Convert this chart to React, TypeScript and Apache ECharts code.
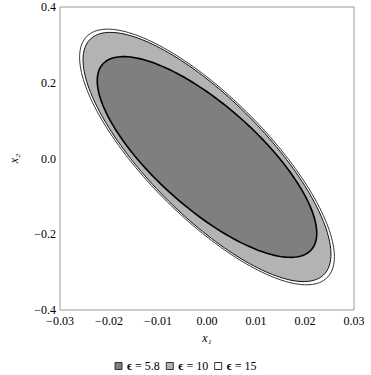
import React, { useEffect, useRef } from "react";
import * as echarts from "echarts";

// Ellipse parameters: [centerX, centerY, halfWidthX, halfHeightY, correlation]
const seriesNames = ["ϵ = 15", "ϵ = 10", "ϵ = 5.8"];
const ellipse15 = [0, 0.004, 0.0260, 0.3375, 0.78];
const ellipse10 = [0, 0.004, 0.0253, 0.3290, 0.78];
const ellipse58 = [0, 0.004, 0.0224, 0.2650, 0.76];
const ellipseData = [ellipse15, ellipse10, ellipse58];
const fills = ["#ffffff", "#b3b3b3", "#7f7f7f"];
const strokes = ["#333333", "#111111", "#000000"];
const strokeWidths = [1, 1, 1.6];
const legendOrder = ["ϵ = 5.8", "ϵ = 10", "ϵ = 15"];
const legendFills = ["#7f7f7f", "#b3b3b3", "#ffffff"];

const fmtNum = (v: number, d: number) => {
  const x = Math.abs(v) < 1e-9 ? 0 : v;
  return x.toFixed(d).replace("-", "\u2212");
};

export default function App() {
  const ref = useRef<HTMLDivElement>(null);
  useEffect(() => {
    if (!ref.current) return;
    const chart = echarts.init(ref.current, null, { renderer: "svg" });
    const font = "Times New Roman, Liberation Serif, DejaVu Serif, serif";
    const series = ellipseData.map((e, i) => ({
      type: "custom",
      name: seriesNames[i],
      coordinateSystem: "cartesian2d",
      encode: { x: 0, y: 1 },
      data: [e],
      z: 2 + i,
      renderItem: (params: any, api: any) => {
        const cx = api.value(0);
        const cy = api.value(1);
        const a = api.value(2);
        const b = api.value(3);
        const r = api.value(4);
        const s = Math.sqrt(1 - r * r);
        const pts: number[][] = [];
        const n = 180;
        for (let k = 0; k < n; k++) {
          const t = (k / n) * Math.PI * 2;
          const x = cx + a * Math.cos(t);
          const y = cy - b * (r * Math.cos(t) + s * Math.sin(t));
          pts.push(api.coord([x, y]));
        }
        return {
          type: "polygon",
          shape: { points: pts },
          style: { fill: fills[i], stroke: strokes[i], lineWidth: strokeWidths[i] },
        };
      },
    }));
    chart.setOption({
      animation: false,
      backgroundColor: "#ffffff",
      textStyle: { fontFamily: font },
      grid: {
        left: 49,
        right: 17,
        top: 7,
        bottom: 65,
        show: true,
        borderColor: "#999999",
        borderWidth: 1,
        backgroundColor: "transparent",
      },
      xAxis: {
        type: "value",
        min: -0.03,
        max: 0.03,
        interval: 0.01,
        axisLine: { show: false },
        axisTick: { show: false },
        splitLine: { show: false },
        axisLabel: {
          margin: 5,
          color: "#000",
          fontSize: 12,
          fontFamily: font,
          formatter: (v: number) => fmtNum(v, 2),
        },
        name: "x₁",
        nameLocation: "middle",
        nameGap: 19,
        nameTextStyle: { color: "#000", fontSize: 12, fontStyle: "italic", fontFamily: font },
      },
      yAxis: {
        type: "value",
        min: -0.4,
        max: 0.4,
        interval: 0.2,
        axisLine: { show: false },
        axisTick: { show: false },
        splitLine: { show: false },
        axisLabel: {
          margin: 4,
          color: "#000",
          fontSize: 12,
          fontFamily: font,
          padding: [0, 0, 5, 0],
          formatter: (v: number) => fmtNum(v, 1),
        },
        name: "x₂",
        nameLocation: "middle",
        nameGap: 40,
        nameRotate: 90,
        nameTextStyle: { color: "#000", fontSize: 12, fontStyle: "italic", fontFamily: font },
      },
      legend: {
        top: 355,
        left: "center",
        icon: "rect",
        itemWidth: 7,
        itemHeight: 7,
        itemGap: 6,
        data: legendOrder.map((n, i) => ({
          name: n,
          itemStyle: { color: legendFills[i], borderColor: "#333", borderWidth: 1 },
        })),
        formatter: (n: string) => "{b|ϵ}" + n.slice(1),
        textStyle: {
          color: "#000",
          fontSize: 12,
          fontFamily: font,
          rich: { b: { fontWeight: "bold", fontSize: 12, fontFamily: font, color: "#000" } },
        },
      },
      series,
    });
    return () => chart.dispose();
  }, []);
  return (
    <div
      ref={ref}
      style={{ position: "fixed", left: 0, top: 0, width: 371, height: 375 }}
    />
  );
}
